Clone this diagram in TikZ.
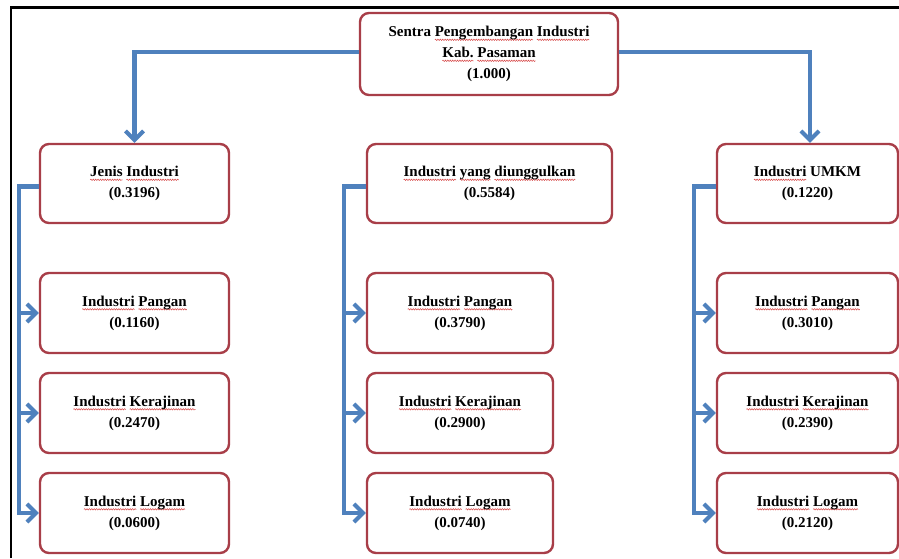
\documentclass[tikz,border=0pt]{standalone}
\usepackage{fontspec}
\setmainfont{Liberation Serif}
\usetikzlibrary{arrows.meta,decorations.pathmorphing}
\definecolor{boxred}{RGB}{168,62,72}
\definecolor{connblue}{RGB}{79,129,189}
\definecolor{wred}{RGB}{215,70,70}
\newcommand\wv[1]{\setbox0\hbox{#1}\leavevmode\tikz[baseline=0pt,x=1pt,y=1pt]{\path[use as bounding box] (0,0); \draw[overlay, sharp corners, draw=wred, line width=0.5pt, decorate, decoration={snake, amplitude=0.7pt, segment length=2.4pt}] (0,-3.2) -- (\the\wd0,-3.2);}\box0\relax}
\tikzset{
  box/.style={draw=boxred, line width=2.4pt, rounded corners=9pt, fill=white,
    align=center, inner sep=0pt, font=\fontsize{15}{21}\selectfont\bfseries},
  conn/.style={draw=connblue, line width=4.5pt, -{Straight Barb[length=9pt,width=18pt,line width=4pt]}},
}
\begin{document}
\begin{tikzpicture}[x=1pt,y=-1pt]
\useasboundingbox (0,0) rectangle (899,558);
\fill[white] (0,0) rectangle (899,558);
\draw[line width=2.5pt] (11,558) -- (11,7.5) -- (899,7.5);
% top
\node[box, minimum width=258pt, minimum height=82pt] (top) at (489,54)
  {Sentra \wv{Pengembangan} \wv{Industri}\\ \wv{Kab.} \wv{Pasaman}\\ (1.000)};
% level 1
\node[box, minimum width=189pt, minimum height=79pt] (L1) at (134.5,183.5)
  {\wv{Jenis} \wv{Industri}\\ (0.3196)};
\node[box, minimum width=245pt, minimum height=79pt] (M1) at (489.5,183.5)
  {\wv{Industri} \wv{yang} \wv{diunggulkan}\\ (0.5584)};
\node[box, minimum width=181pt, minimum height=79pt] (R1) at (807.5,183.5)
  {\wv{Industri} UMKM\\ (0.1220)};
% level 2 left
\node[box, minimum width=189pt, minimum height=80pt] (L2a) at (134.5,313)
  {\wv{Industri} \wv{Pangan}\\ (0.1160)};
\node[box, minimum width=189pt, minimum height=80pt] (L2b) at (134.5,413)
  {\wv{Industri} \wv{Kerajinan}\\ (0.2470)};
\node[box, minimum width=189pt, minimum height=80pt] (L2c) at (134.5,513)
  {\wv{Industri} \wv{Logam}\\ (0.0600)};
% level 2 middle
\node[box, minimum width=186pt, minimum height=80pt] (M2a) at (460,313)
  {\wv{Industri} \wv{Pangan}\\ (0.3790)};
\node[box, minimum width=186pt, minimum height=80pt] (M2b) at (460,413)
  {\wv{Industri} \wv{Kerajinan}\\ (0.2900)};
\node[box, minimum width=186pt, minimum height=80pt] (M2c) at (460,513)
  {\wv{Industri} \wv{Logam}\\ (0.0740)};
% level 2 right
\node[box, minimum width=181pt, minimum height=80pt] (R2a) at (807.5,313)
  {\wv{Industri} \wv{Pangan}\\ (0.3010)};
\node[box, minimum width=181pt, minimum height=80pt] (R2b) at (807.5,413)
  {\wv{Industri} \wv{Kerajinan}\\ (0.2390)};
\node[box, minimum width=181pt, minimum height=80pt] (R2c) at (807.5,513)
  {\wv{Industri} \wv{Logam}\\ (0.2120)};
% connectors from top
\draw[conn] ([yshift=2pt]top.west) -| (L1.north);
\draw[conn] ([yshift=2pt]top.east) -| ([xshift=2.5pt]R1.north);
% connectors to children
\foreach \p/\d in {L/20, M/22, R/22}{
  \foreach \c in {a,b,c}{
    \draw[conn] ([yshift=-3pt]\p1.west) -- ++(-\d,0) |- (\p2\c.west);
  }
}
\end{tikzpicture}
\end{document}
